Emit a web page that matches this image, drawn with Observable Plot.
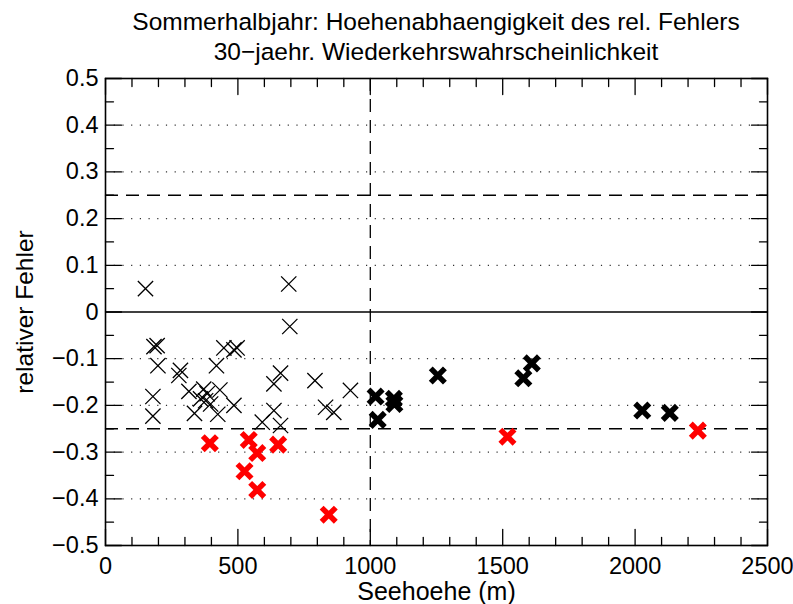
<!DOCTYPE html>
<html>
<head>
<meta charset="utf-8">
<script src="https://cdn.jsdelivr.net/npm/d3@7"></script>
<script src="https://cdn.jsdelivr.net/npm/@observablehq/plot@0.6"></script>
<style>
  html, body { margin: 0; padding: 0; background: #fff; }
  #wrap { width: 793px; height: 604px; position: relative; overflow: hidden; font-family: "Liberation Sans", Arial, sans-serif; }
  .title { position: absolute; left: 0; width: 872px; text-align: center; font-size: 24.5px; color: #000; line-height: 1; white-space: nowrap; }
  svg { display: block; overflow: visible; }
</style>
</head>
<body>
<div id="wrap">
  <div id="chart" style="position:absolute; left:0; top:58px;"></div>
  <div class="title" style="top:10px">Sommerhalbjahr: Hoehenabhaengigkeit des rel. Fehlers</div>
  <div class="title" style="top:40px">30−jaehr. Wiederkehrswahrscheinlichkeit</div>
</div>
<script>
// thin black crosses
const thinX = [151, 692, 696, 183, 195, 198, 179, 179, 283, 277, 419, 447, 485, 497, 315, 371, 359, 378, 384, 397, 432, 336, 424, 485, 636, 661, 636, 661, 592, 791, 831, 862, 925];
const thinY = [0.050, 0.060, -0.031, -0.074, -0.072, -0.115, -0.181, -0.223, -0.125, -0.136, -0.115, -0.077, -0.081, -0.077, -0.170, -0.165, -0.186, -0.190, -0.175, -0.197, -0.167, -0.217, -0.219, -0.200, -0.154, -0.131, -0.211, -0.243, -0.236, -0.147, -0.204, -0.215, -0.168];
// bold black crosses
const boldX = [1020, 1028, 1089, 1091, 1255, 1578, 1610, 2027, 2131];
const boldY = [-0.181, -0.231, -0.186, -0.197, -0.136, -0.142, -0.110, -0.211, -0.216];
// bold red crosses
const redX = [394, 541, 573, 652, 525, 573, 843, 1518, 2237];
const redY = [-0.281, -0.274, -0.302, -0.284, -0.341, -0.381, -0.434, -0.267, -0.254];

const xTickLabels = [0, 500, 1000, 1500, 2000, 2500];
const yTickLabels = [0.5, 0.4, 0.3, 0.2, 0.1, 0, -0.1, -0.2, -0.3, -0.4, -0.5];
const dottedY = [0.4, 0.3, 0.2, 0.1, -0.1, -0.2, -0.3, -0.4];
const dashedY = [0.25, -0.25];
const dashedX = [1000];
const xMinor = d3.range(0, 2501, 100);
const yMinor = d3.range(-10, 11).map(i => i * 0.05);
const xTitle = "Seehoehe (m)";
const yTitle = "relativer Fehler";

const thin = thinX.map((x, i) => ({x, y: thinY[i]}));
const bold = boldX.map((x, i) => ({x, y: boldY[i]}));
const red = redX.map((x, i) => ({x, y: redY[i]}));

const line = {draw(context, l) { context.moveTo(0, 0); context.lineTo(0, -l); }};
const isMajorX = d => d % 500 === 0;
const isMajorY = d => Math.abs(Math.round(d * 10) - d * 10) < 1e-6;

const chart = Plot.plot({
  width: 793,
  height: 546,
  marginTop: 20,
  marginBottom: 59,
  marginLeft: 105,
  marginRight: 26,
  style: {fontFamily: "'Liberation Sans', Arial, sans-serif", fontSize: "23px", color: "#000", background: "transparent", overflow: "visible"},
  x: {domain: [0, 2500], axis: null},
  y: {domain: [-0.5, 0.5], axis: null},
  marks: [
    Plot.ruleY(dottedY, {stroke: "#333", strokeDasharray: "1.2,7.5", strokeWidth: 1.2}),
    Plot.ruleY(dashedY, {stroke: "#000", strokeDasharray: "13,8", strokeWidth: 1.3}),
    Plot.ruleX(dashedX, {stroke: "#000", strokeDasharray: "13,8", strokeWidth: 1.3}),
    Plot.ruleY([0], {stroke: "#000", strokeWidth: 1.5}),
    // ticks inside frame
    Plot.vector(xMinor, {x: d => d, frameAnchor: "bottom", rotate: 0, length: d => isMajorX(d) ? 8 : 4, shape: line, anchor: "start", stroke: "#000", strokeWidth: 1.3}),
    Plot.vector(xMinor, {x: d => d, frameAnchor: "top", rotate: 180, length: d => isMajorX(d) ? 8 : 4, shape: line, anchor: "start", stroke: "#000", strokeWidth: 1.3}),
    Plot.vector(yMinor, {y: d => d, frameAnchor: "left", rotate: 90, length: d => isMajorY(d) ? 8 : 4, shape: line, anchor: "start", stroke: "#000", strokeWidth: 1.3}),
    Plot.vector(yMinor, {y: d => d, frameAnchor: "right", rotate: -90, length: d => isMajorY(d) ? 8 : 4, shape: line, anchor: "start", stroke: "#000", strokeWidth: 1.3}),
    Plot.frame({stroke: "#000", strokeWidth: 1.6}),
    // tick labels
    Plot.text(xTickLabels, {x: d => d, frameAnchor: "bottom", dy: 21, lineAnchor: "middle", textAnchor: "middle", text: d => String(d), fontSize: 23.5, fill: "#000"}),
    Plot.text(yTickLabels, {y: d => d, frameAnchor: "left", dx: -7, textAnchor: "end", lineAnchor: "middle", text: d => d === 0 ? "0" : d3.format(".1f")(d).replace("-", "−"), fontSize: 23.5, fill: "#000"}),
    Plot.text([xTitle], {frameAnchor: "bottom", dx: 0, dy: 46, lineAnchor: "middle", textAnchor: "middle", text: d => d, fontSize: 25, fill: "#000"}),
    Plot.text([yTitle], {frameAnchor: "left", dx: -80, rotate: -90, lineAnchor: "middle", textAnchor: "middle", text: d => d, fontSize: 24.5, fill: "#000"}),
    // points
    Plot.dot(thin, {x: "x", y: "y", symbol: "times", r: 7, stroke: "#000", strokeWidth: 1.3}),
    Plot.dot(bold, {x: "x", y: "y", symbol: "times", r: 6.5, stroke: "#000", strokeWidth: 5.5}),
    Plot.dot(red, {x: "x", y: "y", symbol: "times", r: 6.5, stroke: "#ff0000", strokeWidth: 5.5})
  ]
});
document.getElementById("chart").appendChild(chart);
</script>
</body>
</html>
